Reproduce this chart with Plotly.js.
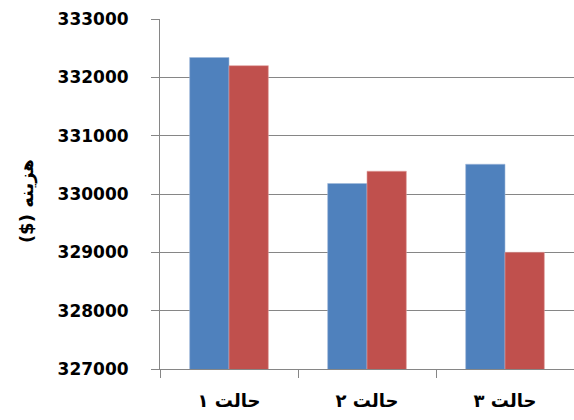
<!DOCTYPE html>
<html>
<head>
<meta charset="utf-8">
<script src="https://cdn.plot.ly/plotly-3.0.1.min.js"></script>
<style>
  html, body { margin: 0; padding: 0; background: #ffffff; }
  #chart { width: 574px; height: 420px; }
</style>
</head>
<body>
<div id="chart"></div>
<script>
// Cost per scenario, two series
const categories = ['حالت ۱', 'حالت ۲', 'حالت ۳'];
const seriesA = [332340, 330180, 330510];
const seriesB = [332200, 330390, 329000];
const yTicks = [327000, 328000, 329000, 330000, 331000, 332000, 333000];
// trailing RLM keeps the parenthesised unit on the left in right-to-left order
const yTitle = 'هزینه ($)\u200F';

const FONT = 'DejaVu Sans, sans-serif';
const GRID = '#868686';

const traces = [
  {
    type: 'bar', x: categories, y: seriesA, name: 'A',
    marker: { color: '#4F81BD', line: { color: '#9fb8da', width: 0.6 } },
    hoverinfo: 'y'
  },
  {
    type: 'bar', x: categories, y: seriesB, name: 'B',
    marker: { color: '#C0504D', line: { color: '#e0a09e', width: 0.6 } },
    hoverinfo: 'y'
  }
];

const layout = {
  width: 574, height: 420,
  margin: { l: 160, r: 0, t: 19, b: 51, pad: 0 },
  paper_bgcolor: '#ffffff', plot_bgcolor: '#ffffff',
  showlegend: false,
  barmode: 'group',
  bargap: 0.43, bargroupgap: 0,
  font: { family: FONT, color: '#000000' },
  xaxis: {
    type: 'category',
    tickson: 'boundaries',
    ticks: 'outside', ticklen: 8, tickcolor: GRID, tickwidth: 1,
    showline: true, linecolor: GRID, linewidth: 1,
    showgrid: false,
    tickfont: { family: FONT, size: 18, color: '#000000', weight: 'bold' },
    ticklabelstandoff: 15,
    fixedrange: true
  },
  yaxis: {
    range: [327000, 333000],
    tickvals: yTicks,
    ticktext: yTicks.map(String),
    ticks: 'outside', ticklen: 8, tickcolor: GRID, tickwidth: 1,
    showline: true, linecolor: GRID, linewidth: 1,
    showgrid: true, gridcolor: GRID, gridwidth: 1,
    zeroline: false,
    tickfont: { family: FONT, size: 17, color: '#000000', weight: 'bold' },
    ticklabelstandoff: 19,
    fixedrange: true
  },
  annotations: [{
    text: yTitle,
    xref: 'paper', yref: 'paper',
    x: -0.321, y: 0.48,
    xanchor: 'center', yanchor: 'middle',
    textangle: -90, showarrow: false,
    font: { family: FONT, size: 18, color: '#000000', weight: 'bold' }
  }]
};

Plotly.newPlot('chart', traces, layout, { displayModeBar: false, staticPlot: true });
</script>
</body>
</html>
